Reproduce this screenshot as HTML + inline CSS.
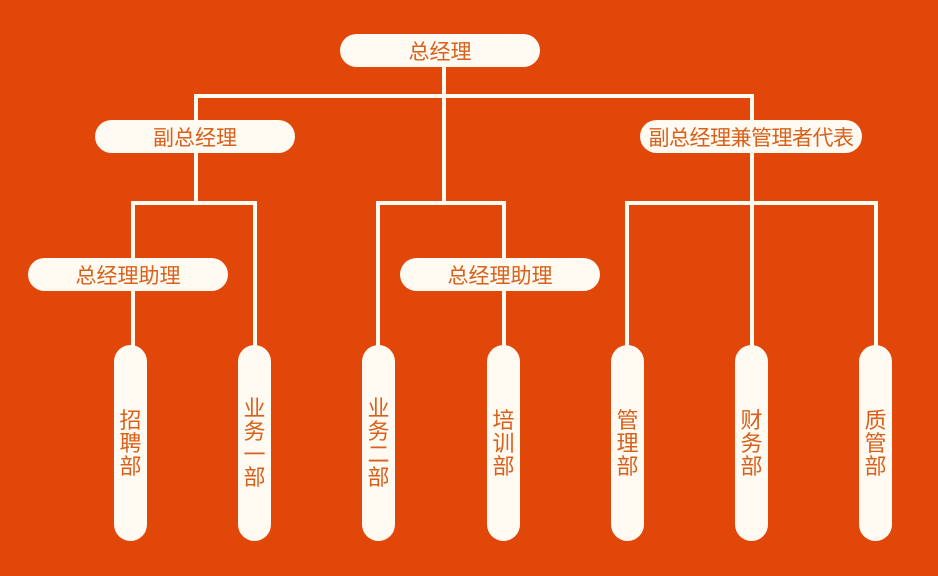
<!DOCTYPE html>
<html><head><meta charset="utf-8"><style>
body{margin:0;width:938px;height:576px;background:#E2470A;position:relative;overflow:hidden;font-family:"Liberation Sans","Noto Sans CJK SC",sans-serif;}
.l{position:absolute;background:#FFFAF2;}
.b{position:absolute;background:#FFFAF2;border-radius:17px;color:#D9601A;font-size:21px;display:flex;align-items:center;justify-content:center;height:33px;}
.p{position:absolute;background:#FFFAF2;border-radius:17px;color:#D9601A;font-size:22px;width:33px;top:345px;height:196px;display:flex;align-items:center;justify-content:center;text-align:center;line-height:23px;}
</style></head><body>
<div class="l" style="left:442px;top:60px;width:4px;height:145px"></div>
<div class="l" style="left:194px;top:94px;width:560px;height:4px"></div>
<div class="l" style="left:194px;top:94px;width:4px;height:111px"></div>
<div class="l" style="left:750px;top:94px;width:4px;height:111px"></div>
<div class="l" style="left:131px;top:201px;width:126px;height:4px"></div>
<div class="l" style="left:376px;top:201px;width:130px;height:4px"></div>
<div class="l" style="left:625px;top:201px;width:253px;height:4px"></div>
<div class="l" style="left:131px;top:201px;width:4px;height:150px"></div>
<div class="l" style="left:253px;top:201px;width:4px;height:150px"></div>
<div class="l" style="left:376px;top:201px;width:4px;height:150px"></div>
<div class="l" style="left:502px;top:201px;width:4px;height:150px"></div>
<div class="l" style="left:625px;top:201px;width:4px;height:150px"></div>
<div class="l" style="left:750px;top:201px;width:4px;height:150px"></div>
<div class="l" style="left:874px;top:201px;width:4px;height:150px"></div>

<div class="b" style="left:340px;top:34px;width:200px">总经理</div>
<div class="b" style="left:95px;top:120px;width:200px">副总经理</div>
<div class="b" style="left:640px;top:120px;width:222px;font-size:21px;letter-spacing:-0.5px">副总经理兼管理者代表</div>
<div class="b" style="left:28px;top:258px;width:200px">总经理助理</div>
<div class="b" style="left:400px;top:258px;width:200px">总经理助理</div>

<div class="p" style="left:114px">招<br>聘<br>部</div>
<div class="p" style="left:238px">业<br>务<br>一<br>部</div>
<div class="p" style="left:362px">业<br>务<br>二<br>部</div>
<div class="p" style="left:487px">培<br>训<br>部</div>
<div class="p" style="left:611px">管<br>理<br>部</div>
<div class="p" style="left:735px">财<br>务<br>部</div>
<div class="p" style="left:859px">质<br>管<br>部</div>
</body></html>
